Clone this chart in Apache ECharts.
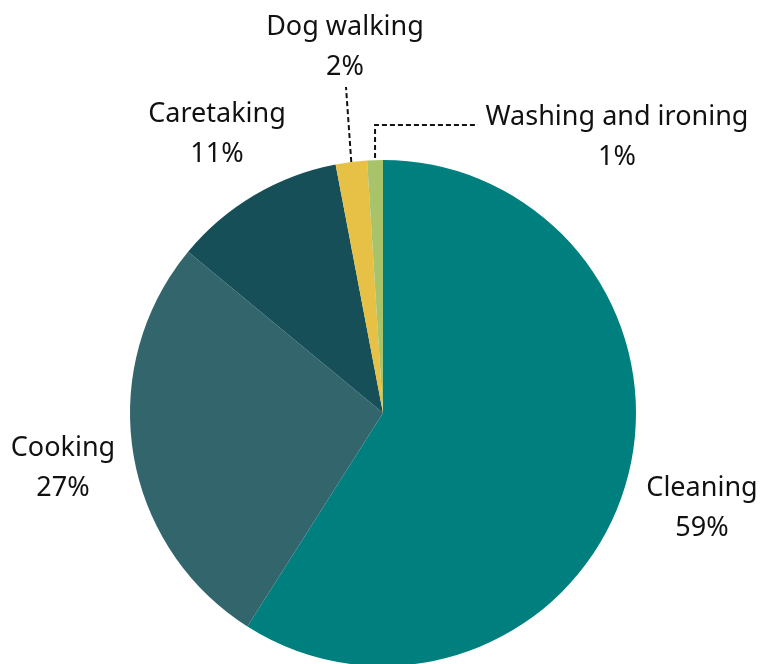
<!DOCTYPE html>
<html>
<head>
<meta charset="utf-8">
<script src="https://cdn.jsdelivr.net/npm/echarts@6/dist/echarts.min.js"></script>
<style>
  html, body { margin: 0; padding: 0; background: #ffffff; }
  #chart { width: 763px; height: 664px; }
</style>
</head>
<body>
<div id="chart"></div>
<script>
// Share of household tasks (percent)
const categories = ['Cleaning', 'Cooking', 'Caretaking', 'Dog walking', 'Washing and ironing'];
const shares = [59, 27, 11, 2, 1];
const colors = ['#007f7f', '#33656d', '#174f59', '#e6c145', '#a8c36a'];

// Pie geometry
const CX = 383, CY = 413, R = 253;

// Label centres, given as offsets from the pie centre
const labelOffsets = [[319, 95], [-320, 55], [-166, -279], [-38, -366], [234, -276]];
// Which labels get a dashed leader line
const withLeader = [false, false, false, true, true];

const chart = echarts.init(document.getElementById('chart'), null, { renderer: 'canvas' });

chart.setOption({
  animation: false,
  series: [{
    type: 'pie',
    center: [CX, CY],
    radius: [0, R],
    startAngle: 90,
    clockwise: true,
    avoidLabelOverlap: false,
    itemStyle: { borderWidth: 0 },
    emphasis: { disabled: true },
    label: {
      show: true,
      position: 'outside',
      formatter: '{b}\n{c}%',
      fontFamily: '"Noto Sans", sans-serif',
      fontSize: 27,
      lineHeight: 40,
      color: '#111111',
      align: 'center'
    },
    labelLine: {
      show: true,
      length: 10,
      length2: 10,
      lineStyle: { color: '#111111', width: 2, type: [5, 3] }
    },
    labelLayout: function (p) {
      const i = p.dataIndex;
      const lx = CX + labelOffsets[i][0];
      const ly = CY + labelOffsets[i][1];
      const out = { x: lx, y: ly, align: 'center', verticalAlign: 'middle' };
      if (withLeader[i]) {
        const start = (p.labelLinePoints && p.labelLinePoints[0]) || [lx, ly];
        if (i === 3) {
          out.labelLinePoints = [start, [lx + 1, ly + 40]];
        } else {
          const sx = start[0], sy = start[1] - 2;
          out.labelLinePoints = [[sx, sy], [sx, CY - 288], [lx - 139, CY - 288]];
        }
      }
      return out;
    },
    data: categories.map((name, i) => ({
      name: name,
      value: shares[i],
      itemStyle: { color: colors[i] },
      labelLine: { show: withLeader[i] }
    }))
  }]
});
</script>
</body>
</html>
